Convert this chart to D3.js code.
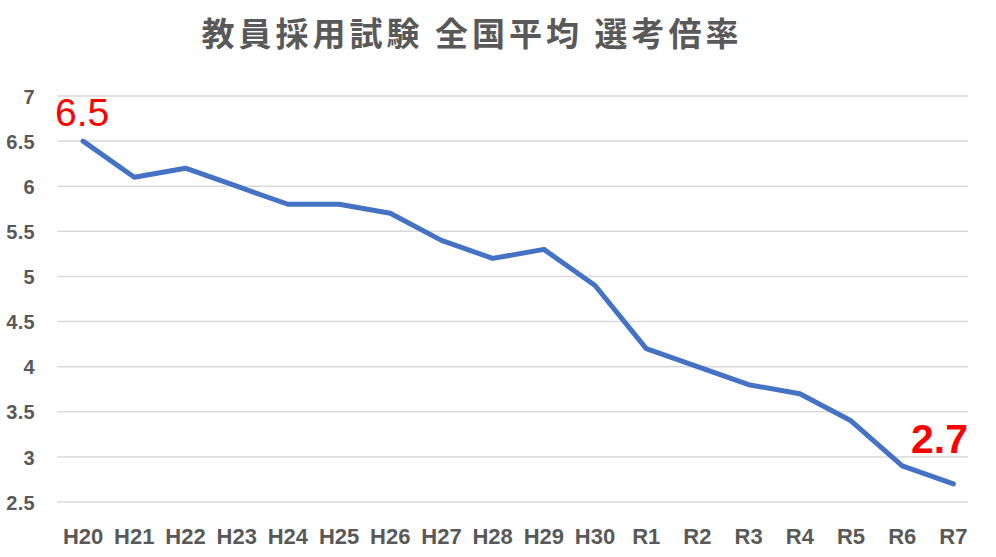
<!DOCTYPE html>
<html><head><meta charset="utf-8">
<script src="https://cdn.jsdelivr.net/npm/d3@7"></script>
<style>body{margin:0;background:#fff}svg{display:block}</style>
</head><body>
<script>
const categories = ["H20","H21","H22","H23","H24","H25","H26","H27","H28","H29","H30","R1","R2","R3","R4","R5","R6","R7"];
const values = [6.5,6.1,6.2,6.0,5.8,5.8,5.7,5.4,5.2,5.3,4.9,4.2,4.0,3.8,3.7,3.4,2.9,2.7];
const yTicks = [2.5,3,3.5,4,4.5,5,5.5,6,6.5,7];
const titleText = "教員採用試験 全国平均 選考倍率";

const W = 996, H = 557;
const svg = d3.select("body").append("svg").attr("width", W).attr("height", H);

const x = d3.scaleBand().domain(categories).range([57.5, 979]);
const y = d3.scaleLinear().domain([2.5, 7]).range([502, 96]);
const cx = d => x(d) + x.bandwidth() / 2;

// gridlines
svg.append("g").selectAll("line").data(yTicks).join("line")
  .attr("x1", 57.5).attr("x2", 968)
  .attr("y1", d => y(d)).attr("y2", d => y(d))
  .attr("stroke", "#d9d9d9").attr("stroke-width", 1.5);

// y axis
const yAxis = svg.append("g").attr("transform", "translate(35,0)")
  .call(d3.axisLeft(y).tickValues(yTicks).tickSize(0).tickPadding(0).tickFormat(d3.format("")));
yAxis.select(".domain").remove();
yAxis.selectAll("text").attr("font-family", "Liberation Sans, Arial, sans-serif")
  .attr("font-weight", "bold").attr("font-size", 20).attr("fill", "#595959")
  .attr("letter-spacing", 0.3).attr("dy", "0.36em");

// x axis
const xAxis = svg.append("g").attr("transform", "translate(0,502)")
  .call(d3.axisBottom(x).tickSize(0).tickPadding(0));
xAxis.select(".domain").remove();
xAxis.selectAll("text").attr("font-family", "Liberation Sans, Arial, sans-serif")
  .attr("font-weight", "bold").attr("font-size", 22).attr("fill", "#595959")
  .attr("dy", null).attr("y", 42);

// line
const line = d3.line().x((d, i) => cx(categories[i])).y(d => y(d));
svg.append("path").datum(values).attr("d", line)
  .attr("fill", "none").attr("stroke", "#4472C4").attr("stroke-width", 5)
  .attr("stroke-linejoin", "round").attr("stroke-linecap", "round");

// annotations
const first = 0, last = values.length - 1;
svg.append("text").attr("x", cx(categories[first]) - 28).attr("y", 126)
  .attr("font-family", "Liberation Sans, Arial, sans-serif").attr("font-size", 39)
  .attr("fill", "#ff0000").text(d3.format(".1f")(values[first]));
svg.append("text").attr("x", 968).attr("y", 453).attr("text-anchor", "end")
  .attr("font-family", "Liberation Sans, Arial, sans-serif").attr("font-size", 41)
  .attr("font-weight", "bold").attr("fill", "#ff0000").text(d3.format(".1f")(values[last]));

// title
svg.append("text").attr("x", 472).attr("y", 46).attr("text-anchor", "middle")
  .attr("font-family", "Noto Sans CJK JP, sans-serif").attr("font-weight", "bold")
  .attr("font-size", 33).attr("letter-spacing", 4).attr("fill", "#595959")
  .text(titleText);
</script>
</body></html>
